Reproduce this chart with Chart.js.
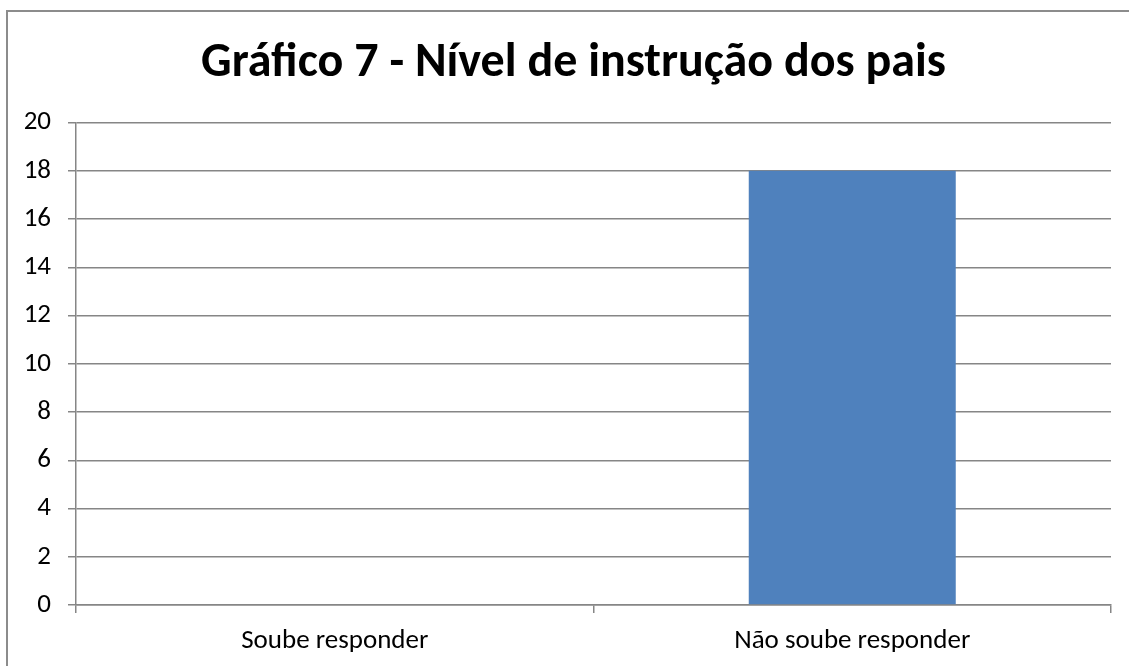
<!DOCTYPE html>
<html>
<head>
<meta charset="utf-8">
<script src="https://cdn.jsdelivr.net/npm/chart.js@4"></script>
<style>
  html, body { margin: 0; padding: 0; background: #fff; overflow: hidden; }
  canvas { display: block; }
</style>
</head>
<body>
<canvas id="grafico" width="1129" height="666"></canvas>
<script>
// ---------- DATI ----------
const categorie = ['Soube responder', 'Não soube responder'];
const valori = [0, 18];
const titolo = 'Gráfico 7 - Nível de instrução dos pais';

const font = 'Carlito, Calibri, Lato, sans-serif';
const grigio = '#868686';

// sposta il titolo un po' a destra, come nell'originale
const spostaTitolo = {
  id: 'spostaTitolo',
  afterLayout(chart) {
    if (chart.titleBlock) chart.titleBlock.left += 36;
  }
};

// cornice esterna (solo lati sinistro e superiore sono visibili)
const cornice = {
  id: 'cornice',
  beforeDraw(chart) {
    const c = chart.ctx;
    c.save();
    c.strokeStyle = '#8c8c8c';
    c.lineWidth = 2;
    c.beginPath();
    c.moveTo(7, chart.height);
    c.lineTo(7, 11);
    c.lineTo(chart.width, 11);
    c.stroke();
    c.restore();
  }
};

const ctx = document.getElementById('grafico');
new Chart(ctx, {
  type: 'bar',
  data: {
    labels: categorie,
    datasets: [{
      data: valori,
      backgroundColor: '#4F81BD',
      barPercentage: 0.4,
      categoryPercentage: 1
    }]
  },
  plugins: [spostaTitolo, cornice],
  options: {
    responsive: false,
    animation: false,
    layout: { padding: { top: 0, right: 18, bottom: 0, left: 0 } },
    plugins: {
      legend: { display: false },
      tooltip: { enabled: false },
      title: {
        display: true,
        text: titolo,
        color: '#000',
        font: { family: font, size: 48, weight: 'bold' },
        padding: { top: 35, bottom: 30 }
      }
    },
    scales: {
      x: {
        grid: { offset: true, drawOnChartArea: false, color: grigio, lineWidth: 1.5, tickLength: 8 },
        border: { color: grigio, width: 1.5 },
        ticks: { color: '#000', font: { family: font, size: 27 }, padding: 12 },
        afterFit: s => { s.height = 61; }
      },
      y: {
        min: 0,
        max: 20,
        ticks: { stepSize: 2, color: '#000', font: { family: font, size: 27 }, padding: 17 },
        grid: { color: grigio, lineWidth: 1.5, tickLength: 8 },
        border: { color: grigio, width: 1.5 },
        afterFit: s => { s.width = 76; }
      }
    }
  }
});
</script>
</body>
</html>
